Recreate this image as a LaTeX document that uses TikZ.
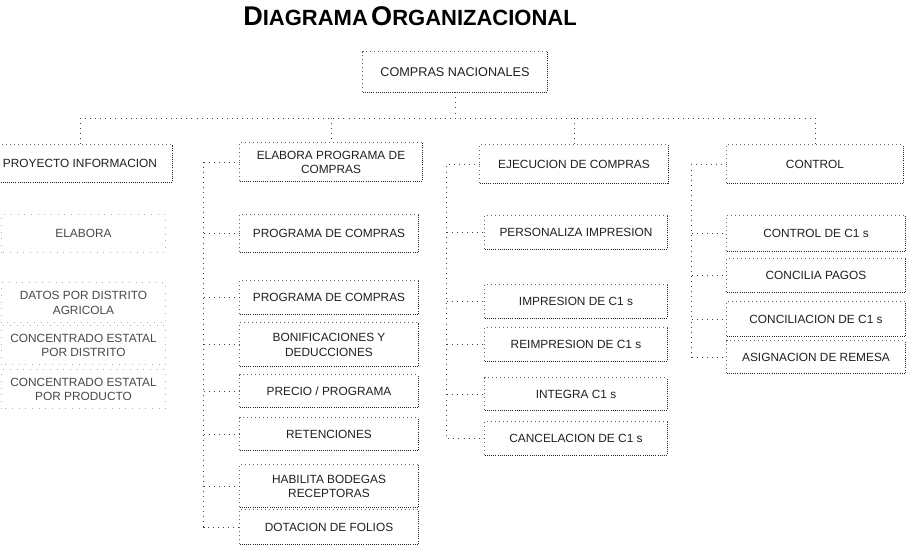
\documentclass[tikz,border=0pt]{standalone}
\usepackage{fontspec}
\setmainfont{Liberation Sans}
\usetikzlibrary{fit}
\begin{document}
\begin{tikzpicture}[x=0.75pt,y=-0.75pt,
  every node/.style={font=\fontsize{8.9}{11}\selectfont, text=black!88, align=center},
  boxn/.style={inner sep=0pt, draw=none},
  txt/.style={inner sep=0pt},
  lefttxt/.style={inner sep=0pt, text=black!72},
  conn/.style={draw=black!75, line width=0.6pt, dash pattern=on 0.6pt off 3.2pt},
  hard/.style={draw=black!85, line width=0.7pt, dash pattern=on 0.7pt off 0.9pt},
  soft/.style={draw=black!60, line width=0.6pt, dash pattern=on 0.6pt off 2.4pt},
  faint/.style={draw=black!30, line width=0.5pt, dash pattern=on 0.5pt off 4.5pt},
]
\useasboundingbox (0,0) rectangle (907,549);
\newcommand\bx[5][txt]{%
  \node[boxn, fit={(#3) (#4)}] (#2) {};
  \node[#1] (#2-t) at ([yshift=-0.3pt]#2.center) {#5};}

% title
\node[anchor=base west, inner sep=0pt, text=black] (title) at (243,26)
  {\bfseries{\fontsize{20.3}{21}\selectfont D}{\fontsize{16.5}{17}\selectfont IAGRAMA} {\fontsize{20.3}{21}\selectfont O}{\fontsize{16.5}{17}\selectfont RGANIZACIONAL}};

% top box
\bx[txt,font=\fontsize{9.5}{11}\selectfont]{cn}{363,52}{547,92}{COMPRAS NACIONALES}

% level 2
\bx{proy}{-12,145}{172,182}{PROYECTO INFORMACION}
\bx{elab}{240,143}{422,181}{ELABORA PROGRAMA DE\\COMPRAS}
\bx{ejec}{480,145}{668,183}{EJECUCION DE COMPRAS}
\bx{ctrl}{727,145}{903,183}{CONTROL}

% left column
\bx[lefttxt]{l1}{2,215}{165,252}{ELABORA}
\bx[lefttxt]{l2}{2,283}{165,322}{DATOS POR DISTRITO\\AGRICOLA}
\bx[lefttxt]{l3}{2,326}{165,364}{CONCENTRADO ESTATAL\\POR DISTRITO}
\bx[lefttxt]{l4}{2,370}{165,408}{CONCENTRADO ESTATAL\\POR PRODUCTO}

% column 2
\bx{c2a}{240,215}{418,252}{PROGRAMA DE COMPRAS}
\bx{c2b}{240,281}{418,314}{PROGRAMA DE COMPRAS}
\bx{c2c}{240,323}{418,366}{BONIFICACIONES Y\\DEDUCCIONES}
\bx{c2d}{240,375}{418,407}{PRECIO / PROGRAMA}
\bx{c2e}{240,418}{418,450}{RETENCIONES}
\bx{c2f}{240,465}{418,507}{HABILITA BODEGAS\\RECEPTORAS}
\bx{c2g}{240,510}{418,544}{DOTACION DE FOLIOS}

% column 3
\bx{c3a}{485,216}{667,249}{PERSONALIZA IMPRESION}
\bx{c3b}{485,285}{667,318}{IMPRESION DE C1 s}
\bx{c3c}{485,328}{667,361}{REIMPRESION DE C1 s}
\bx{c3d}{485,378}{667,410}{INTEGRA C1 s}
\bx{c3e}{485,422}{667,455}{CANCELACION DE C1 s}

% column 4
\bx{c4a}{727,216}{905,251}{CONTROL DE C1 s}
\bx{c4b}{727,259}{905,292}{CONCILIA PAGOS}
\bx{c4c}{727,302}{905,336}{CONCILIACION DE C1 s}
\bx{c4d}{727,341}{905,373}{ASIGNACION DE REMESA}

% box outlines
\foreach \n in {cn,proy,elab,ejec,ctrl,c2a,c2b,c2c,c2d,c2e,c2f,c2g,c3a,c3b,c3c,c3d,c3e,c4a,c4b,c4c,c4d}{
  \draw[soft] (\n.south west) |- (\n.north east);
  \draw[hard] (\n.south west) -| (\n.north east);
}
\foreach \n in {l1,l2,l3,l4}{
  \draw[faint] (\n.south west) rectangle (\n.north east);
}

% connectors
\coordinate (busy) at (0,118);
\draw[conn] (cn.south) -- (cn.south |- busy);
\draw[conn] (proy.north |- busy) -- (ctrl.north |- busy);
\foreach \n in {proy,elab,ejec,ctrl}{
  \draw[conn] (\n.north |- busy) -- (\n.north);
}
\draw[conn] (elab.west) -- ++(-36,0) coordinate (s2) |- (c2g.west);
\foreach \n in {c2a,c2b,c2c,c2d,c2e,c2f}{
  \draw[conn] (s2 |- \n.west) -- (\n.west);
}
\draw[conn] (ejec.west) -- ++(-33,0) coordinate (s3) |- (c3e.west);
\foreach \n in {c3a,c3b,c3c,c3d}{
  \draw[conn] (s3 |- \n.west) -- (\n.west);
}
\draw[conn] (ctrl.west) -- ++(-35,0) coordinate (s4) |- (c4d.west);
\foreach \n in {c4a,c4b,c4c}{
  \draw[conn] (s4 |- \n.west) -- (\n.west);
}
\end{tikzpicture}
\end{document}
